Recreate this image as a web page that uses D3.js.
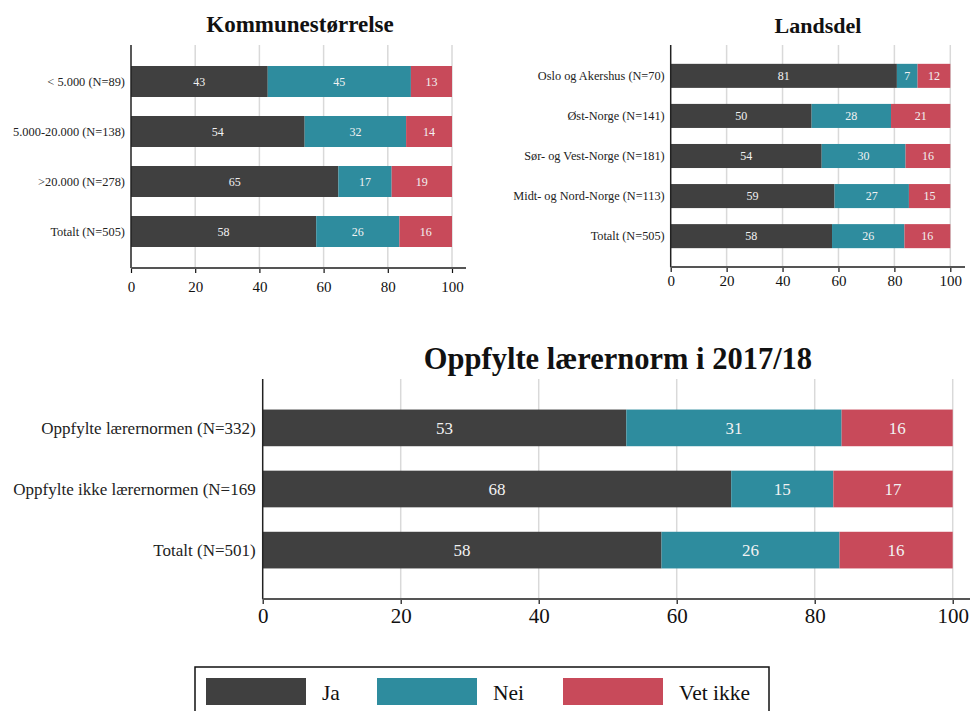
<!DOCTYPE html>
<html>
<head>
<meta charset="utf-8">
<script src="https://cdn.jsdelivr.net/npm/d3@7/dist/d3.min.js"></script>
<style>
  html, body { margin: 0; padding: 0; background: #fff; }
  svg { display: block; font-family: "Liberation Serif", "DejaVu Serif", serif; }
</style>
</head>
<body>
<svg id="chart" width="970" height="711"></svg>
<script>
// ---------- DATA ----------
const seriesNames = ["Ja", "Nei", "Vet ikke"];
const seriesColors = ["#404040", "#2e8c9e", "#c84a5a"];
const tickValues = [0, 20, 40, 60, 80, 100];

const kommuneTitle = "Kommunestørrelse";
const kommuneCategories = ["< 5.000 (N=89)", "5.000-20.000 (N=138)", ">20.000 (N=278)", "Totalt (N=505)"];
const kommuneJa = [42.6, 54.1, 64.6, 57.7];
const kommuneNei = [44.6, 31.6, 16.6, 25.9];
const kommuneVet = [12.8, 14.3, 18.8, 16.4];

const landsdelTitle = "Landsdel";
const landsdelCategories = ["Oslo og Akershus (N=70)", "Øst-Norge (N=141)", "Sør- og Vest-Norge (N=181)", "Midt- og Nord-Norge (N=113)", "Totalt (N=505)"];
const landsdelJa = [80.9, 50.4, 54.0, 58.6, 57.7];
const landsdelNei = [7.4, 28.4, 30.0, 26.6, 25.9];
const landsdelVet = [11.7, 21.2, 16.0, 14.8, 16.4];

const normTitle = "Oppfylte lærernorm i 2017/18";
const normCategories = ["Oppfylte lærernormen (N=332)", "Oppfylte ikke lærernormen (N=169", "Totalt (N=501)"];
const normJa = [52.7, 67.9, 57.8];
const normNei = [31.2, 14.8, 25.8];
const normVet = [16.1, 17.3, 16.4];

// ---------- DRAW ----------
const svg = d3.select("#chart");

function drawChart(cfg) {
  const rows = cfg.categories.map((c, i) => ({ cat: c, vals: [cfg.ja[i], cfg.nei[i], cfg.vet[i]] }));
  const x = d3.scaleLinear().domain([0, 100]).range([cfg.x0, cfg.x1]);
  const y = d3.scaleBand().domain(cfg.categories).range([cfg.yTop, cfg.yBottom])
    .paddingInner(cfg.padInner).paddingOuter(cfg.padOuter);
  const g = svg.append("g");

  // gridlines
  g.selectAll("line.grid").data(tickValues.slice(1)).join("line")
    .attr("x1", d => x(d)).attr("x2", d => x(d))
    .attr("y1", cfg.yTop).attr("y2", cfg.yBottom)
    .attr("stroke", "#d9d9d9").attr("stroke-width", 1.5);

  // stacked bars
  const stack = d3.stack().keys([0, 1, 2]).value((d, k) => d.vals[k]);
  const layers = stack(rows);
  layers.forEach((layer, k) => {
    const lg = g.append("g");
    lg.selectAll("rect").data(layer).join("rect")
      .attr("x", d => x(d[0]))
      .attr("width", d => x(d[1]) - x(d[0]))
      .attr("y", (d, i) => y(rows[i].cat))
      .attr("height", y.bandwidth())
      .attr("fill", seriesColors[k]);
    lg.selectAll("text").data(layer).join("text")
      .attr("x", d => (x(d[0]) + x(d[1])) / 2)
      .attr("y", (d, i) => y(rows[i].cat) + y.bandwidth() / 2)
      .attr("dy", "0.35em")
      .attr("text-anchor", "middle")
      .attr("fill", "#f2f2f2")
      .attr("font-size", cfg.valueSize)
      .text(d => Math.round(+(d[1] - d[0]).toFixed(2)));
  });

  // y axis line
  g.append("line")
    .attr("x1", x(0)).attr("x2", x(0))
    .attr("y1", cfg.yTop).attr("y2", cfg.yBottom)
    .attr("stroke", "#222").attr("stroke-width", 1.5);

  // category labels
  g.selectAll("text.cat").data(cfg.categories).join("text")
    .attr("class", "cat")
    .attr("x", x(0) - cfg.labelGap)
    .attr("y", d => y(d) + y.bandwidth() / 2)
    .attr("dy", "0.35em")
    .attr("text-anchor", "end")
    .attr("fill", "#222")
    .attr("font-size", cfg.labelSize)
    .text(d => d);

  // x axis
  const axis = d3.axisBottom(x).tickValues(tickValues).tickSize(cfg.tickLen).tickPadding(cfg.tickPad).tickFormat(d3.format("d"));
  const ax = g.append("g").attr("transform", `translate(0,${cfg.yBottom})`).call(axis);
  ax.select(".domain").remove();
  ax.selectAll(".tick line").attr("stroke", "#111").attr("stroke-width", 1.2);
  ax.selectAll(".tick text").attr("font-size", cfg.tickSize).attr("fill", "#111")
    .attr("font-family", "Liberation Serif, serif");
  ax.append("line")
    .attr("x1", x(0)).attr("x2", cfg.axisEnd)
    .attr("y1", 0).attr("y2", 0)
    .attr("stroke", "#555").attr("stroke-width", 2);

  // title
  svg.append("text")
    .attr("x", cfg.titleX).attr("y", cfg.titleY)
    .attr("text-anchor", "middle")
    .attr("font-weight", "bold")
    .attr("font-size", cfg.titleSize)
    .attr("fill", "#111")
    .text(cfg.title);
}

drawChart({
  title: kommuneTitle, categories: kommuneCategories, ja: kommuneJa, nei: kommuneNei, vet: kommuneVet,
  x0: 131, x1: 452, yTop: 45, yBottom: 268, padInner: 0.38, padOuter: 0.42,
  axisEnd: 466, labelGap: 6, labelSize: 12.4, valueSize: 12, tickSize: 15, tickLen: 5, tickPad: 8,
  titleX: 300, titleY: 32, titleSize: 23
});

drawChart({
  title: landsdelTitle, categories: landsdelCategories, ja: landsdelJa, nei: landsdelNei, vet: landsdelVet,
  x0: 670.7, x1: 950.3, yTop: 45, yBottom: 267, padInner: 0.4, padOuter: 0.47,
  axisEnd: 965, labelGap: 6, labelSize: 12.3, valueSize: 12, tickSize: 15, tickLen: 5, tickPad: 3,
  titleX: 818, titleY: 33, titleSize: 22
});

drawChart({
  title: normTitle, categories: normCategories, ja: normJa, nei: normNei, vet: normVet,
  x0: 262.7, x1: 952.7, yTop: 379, yBottom: 599, padInner: 0.4, padOuter: 0.5,
  axisEnd: 970, labelGap: 7, labelSize: 17, valueSize: 17, tickSize: 21, tickLen: 5, tickPad: 4,
  titleX: 618, titleY: 369, titleSize: 30.5
});

// ---------- LEGEND ----------
const legend = svg.append("g");
legend.append("rect")
  .attr("x", 195).attr("y", 667).attr("width", 574).attr("height", 60)
  .attr("fill", "none").attr("stroke", "#111").attr("stroke-width", 1.5);
const legendX = [206, 377, 563];
const legendItems = legend.selectAll("g.item").data(seriesNames).join("g")
  .attr("transform", (d, i) => `translate(${legendX[i]},678)`);
legendItems.append("rect").attr("width", 100).attr("height", 27)
  .attr("fill", (d, i) => seriesColors[i]);
legendItems.append("text").attr("x", 116).attr("y", 14).attr("dy", "0.35em")
  .attr("font-size", 21.5).attr("fill", "#111").text(d => d);
</script>
</body>
</html>
